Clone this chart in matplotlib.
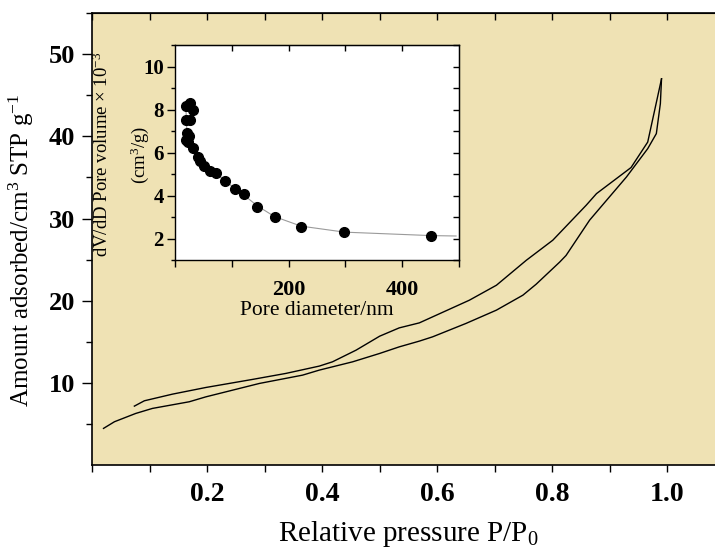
import numpy as np
import matplotlib.pyplot as plt

plt.rcParams['font.family'] = ['Liberation Serif', 'DejaVu Serif']
plt.rcParams['mathtext.fontset'] = 'custom'
plt.rcParams['mathtext.rm'] = 'Liberation Serif'
plt.rcParams['mathtext.it'] = 'Liberation Serif:italic'
plt.rcParams['mathtext.bf'] = 'Liberation Serif:bold'

# isotherm, adsorption branch (lower)
ads_p = [0.020, 0.039, 0.076, 0.105, 0.169, 0.198, 0.291, 0.366, 0.395, 0.453,
         0.500, 0.534, 0.569, 0.592, 0.650, 0.703, 0.749, 0.772, 0.813, 0.824,
         0.865, 0.929, 0.966, 0.981, 0.988, 0.990]
ads_v = [4.46, 5.27, 6.28, 6.89, 7.70, 8.30, 9.93, 10.94, 11.55, 12.56,
         13.58, 14.38, 15.08, 15.60, 17.23, 18.85, 20.67, 22.0, 24.7, 25.5,
         29.8, 35.05, 38.5, 40.33, 43.98, 47.0]

# isotherm, desorption branch (upper)
des_p = [0.0736, 0.091, 0.140, 0.198, 0.279, 0.337, 0.395, 0.418, 0.459, 0.500,
         0.534, 0.569, 0.592, 0.656, 0.703, 0.755, 0.801, 0.859, 0.877, 0.937,
         0.966, 0.990]
des_v = [7.17, 7.82, 8.63, 9.44, 10.42, 11.15, 12.04, 12.56, 13.98, 15.68,
         16.69, 17.30, 18.03, 20.06, 21.88, 24.92, 27.36, 31.61, 33.03, 36.2,
         39.3, 47.0]

# pore size distribution (inset)
pore_d = [19, 27, 31, 20, 27, 21, 24.6, 19, 23, 32, 40.6, 44.6, 50.4, 61, 72.5,
          88.7, 106, 121.7, 145, 175.6, 222, 298.5, 450]
pore_v = [8.18, 8.30, 7.99, 7.53, 7.53, 6.91, 6.76, 6.60, 6.50, 6.22, 5.80, 5.60,
          5.37, 5.14, 5.07, 4.68, 4.30, 4.06, 3.48, 2.99, 2.53, 2.32, 2.14]
fit_d = [19, 20, 21, 23, 27, 32, 40.6, 50.4, 61, 72.5, 88.7, 106, 121.7, 145,
         175.6, 222, 298.5, 450, 495]
fit_v = [8.18, 7.53, 6.91, 6.55, 6.40, 6.22, 5.80, 5.37, 5.14, 5.02, 4.68, 4.32,
         4.02, 3.52, 3.02, 2.58, 2.30, 2.14, 2.12]

bg = '#EFE2B4'

fig = plt.figure(figsize=(7.15, 5.51), dpi=100)
ax = fig.add_axes([0.1287, 0.156, 0.885, 0.8203])
ax.set_facecolor(bg)
ax.plot(ads_p, ads_v, color='black', lw=1.0)
ax.plot(des_p, des_v, color='black', lw=1.0)
ax.set_xlim(0, 1.1)
ax.set_ylim(0, 55)
ax.spines['right'].set_visible(False)
for s in ['left', 'bottom', 'top']:
    ax.spines[s].set_linewidth(1.2)

ax.set_xticks([0.2, 0.4, 0.6, 0.8, 1.0])
ax.set_xticks(np.arange(0, 1.11, 0.1), minor=True)
ax.set_yticks([10, 20, 30, 40, 50])
ax.set_yticks(np.arange(5, 56, 5), minor=True)
ax.tick_params(axis='x', which='both', direction='out', length=5, width=1, pad=7)
ax.tick_params(axis='y', which='major', direction='out', length=7, width=1, pad=5)
ax.tick_params(axis='y', which='minor', direction='out', length=4, width=1)
for lbl in ax.get_xticklabels():
    lbl.set_fontweight('bold')
    lbl.set_fontsize(20)
for lbl in ax.get_yticklabels():
    lbl.set_fontweight('bold')
    lbl.set_fontsize(19)

top = ax.secondary_xaxis('top')
top.set_xticks(np.arange(0, 1.11, 0.1))
top.set_xticklabels([])
top.tick_params(direction='in', length=5, width=1)

ax.set_xlabel('Relative pressure P/P$_{\\mathrm{0}}$', fontsize=21, labelpad=9)
ax.set_ylabel('Amount adsorbed/cm$^{\\mathrm{3}}$ STP g$^{\\mathrm{-1}}$', fontsize=18)
ax.yaxis.set_label_coords(-0.088, 0.475)

# inset
ins = fig.add_axes([0.2448, 0.528, 0.397, 0.390])
ins.set_facecolor('white')
ins.plot(fit_d, fit_v, color='#9a9a9a', lw=0.8, zorder=1)
ins.plot(pore_d, pore_v, 'o', color='black', ms=7, zorder=2)
ins.set_xlim(0, 495)
ins.set_ylim(1, 11)
for s in ins.spines.values():
    s.set_linewidth(1.0)
ins.set_xticks([200, 400])
ins.set_xticks([0, 100, 300, 500], minor=True)
ins.set_yticks([2, 4, 6, 8, 10])
ins.set_yticks([1, 3, 5, 7, 9, 11], minor=True)
ins.tick_params(axis='x', which='both', direction='out', length=5, width=1, pad=9)
ins.tick_params(axis='y', which='major', direction='out', length=6, width=1, pad=2)
ins.tick_params(axis='y', which='minor', direction='out', length=3, width=1)
for lbl in ins.get_xticklabels():
    lbl.set_fontweight('bold')
    lbl.set_fontsize(16)
for lbl in ins.get_yticklabels():
    lbl.set_fontweight('bold')
    lbl.set_fontsize(15)

itop = ins.secondary_xaxis('top')
itop.set_xticks([100, 200, 300, 400])
itop.set_xticklabels([])
itop.tick_params(direction='in', length=4, width=1)
iright = ins.secondary_yaxis('right')
iright.set_yticks(np.arange(1, 12, 1))
iright.set_yticklabels([])
iright.tick_params(direction='in', length=4, width=1)

ins.set_xlabel('Pore diameter/nm', fontsize=15.5, labelpad=1)
ins.text(-0.255, 0.49, 'dV/dD Pore volume \u00d7 10$^{\\mathrm{-3}}$', transform=ins.transAxes,
         rotation=90, ha='center', va='center', fontsize=13.5)
ins.text(-0.125, 0.49, '(cm$^{\\mathrm{3}}$/g)', transform=ins.transAxes,
         rotation=90, ha='center', va='center', fontsize=13.5)

fig.savefig('out.png', dpi=100)
